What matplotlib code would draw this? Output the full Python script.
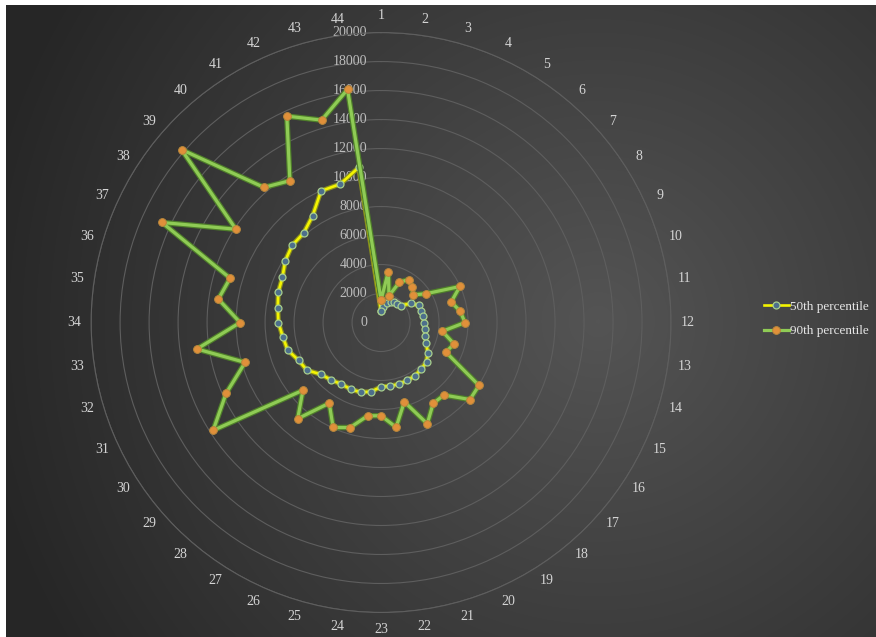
import numpy as np
import matplotlib.pyplot as plt
from matplotlib.transforms import offset_copy

plt.rcParams['font.family'] = ['Liberation Serif', 'DejaVu Serif']

# categories 1..44 around the circle
categories = [str(i) for i in range(1, 45)]

p50 = [790, 1100, 1430, 1590, 1680, 1730, 1780, 2440, 2840, 2870,
       2940, 2990, 3070, 3190, 3420, 3830, 4150, 4250, 4350, 4390,
       4420, 4430, 4430, 4820, 5010, 5060, 5050, 5250, 5470, 6080,
       6260, 6720, 6850, 7080, 7200, 7390, 7480, 7860, 8120, 8160,
       8740, 9970, 9960, 10810]

p90 = [1550, 3550, 1930, 3050, 3520, 3280, 2910, 3670, 5980, 5040,
       5510, 5790, 4270, 5250, 4910, 8030, 8110, 6620, 6640, 7680,
       5700, 7300, 6430, 6500, 7550, 7960, 6610, 8780, 7130, 13770,
       11750, 9770, 12830, 9720, 11340, 10850, 16610, 11900, 18210, 12330,
       11630, 15650, 14550, 16240]

r_ticks = list(range(0, 20001, 2000))

fig = plt.figure(figsize=(8.76, 6.37), dpi=100, facecolor='white')

# dark gradient background (white strip on left and top like the screenshot)
bg = fig.add_axes([6 / 876, 0, 1 - 6 / 876, 1 - 5 / 637])
h, w = 632, 870
yy, xx = np.mgrid[0:h, 0:w]
d = np.hypot((xx - 0.68 * w) / w, (yy - 0.50 * h) / w)
g = np.clip(0.33 - 0.25 * d, 0.15, 0.35)
bg.imshow(np.dstack([g, g, g]), aspect='auto', origin='upper')
bg.axis('off')

ax = fig.add_axes([0.104, 0.0384, 0.662, 0.9106], polar=True)
ax.set_facecolor('none')
ax.set_theta_zero_location('N')
ax.set_theta_direction(-1)
ax.set_ylim(0, 20000)
ax.set_yticks(r_ticks)
ax.set_yticklabels([])
ax.set_xticks([])
ax.yaxis.grid(True, color='#5e5e5e', lw=0.8)
ax.spines['polar'].set_color('#5e5e5e')
ax.spines['polar'].set_linewidth(0.8)

theta = np.arange(len(categories)) * 2 * np.pi / len(categories)
t = np.append(theta, theta[0])
v50 = p50 + p50[:1]
v90 = p90 + p90[:1]

# 50th percentile
ax.plot(t, v50, color='#8a8f1e', lw=3.6, zorder=3)
l50, = ax.plot(t, v50, color='#f4f400', lw=1.9, marker='o', ms=5,
               mfc='#4d6f8c', mec='#a8cf8c', mew=0.9, zorder=4,
               label='50th percentile')

# 90th percentile
ax.plot(t, v90, color='#4f7f2a', lw=4.0, zorder=5)
l90, = ax.plot(t, v90, color='#8fcb55', lw=2.3, marker='o', ms=5.6,
               mfc='#e0903a', mec='#b7873c', mew=0.7, zorder=6,
               label='90th percentile')

# category labels
for th, lab in zip(theta, categories):
    ax.text(th, 21150, lab, ha='center', va='center', color='#d4d4d4',
            fontsize=10, clip_on=False)

# value labels along the vertical axis
trans = offset_copy(ax.transData, fig=fig, x=-10, y=0, units='points')
for v in r_ticks:
    ax.text(0, v, str(v), transform=trans, ha='right', va='center',
            color='#bdbdbd', fontsize=10, clip_on=False, zorder=2)

fig.legend(handles=[l50, l90], loc='center left',
           bbox_to_anchor=(752 / 876, 1 - 319 / 637), frameon=False,
           fontsize=9.5, labelcolor='#e6e6e6', handlelength=1.9,
           handletextpad=0.1, labelspacing=0.9)

fig.savefig('out.png', dpi=100, facecolor=fig.get_facecolor())
